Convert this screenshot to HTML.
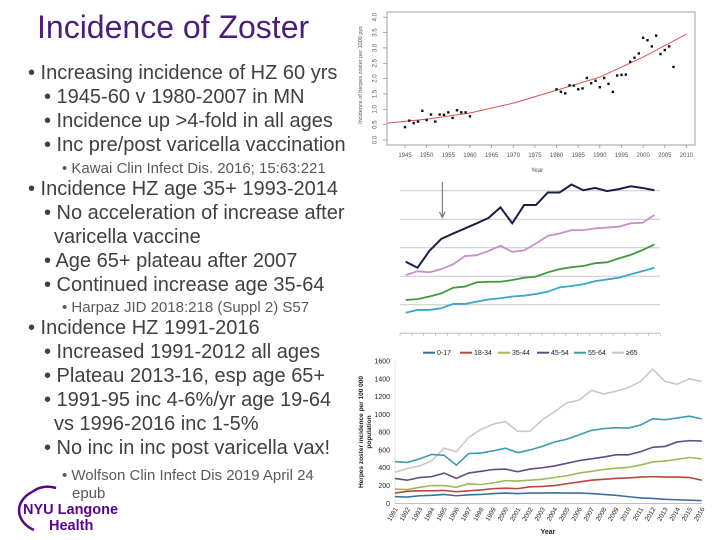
<!DOCTYPE html>
<html><head><meta charset="utf-8">
<style>
body{margin:0;width:720px;height:540px;background:#fff;position:relative;overflow:hidden;font-family:"Liberation Sans",sans-serif}
.t{position:absolute;white-space:nowrap;color:#404040;font-size:20px;line-height:20px}
.s{font-size:15px;color:#595959;line-height:16px}
svg{position:absolute;left:0;top:0}
</style></head><body>
<div class="t" style="left:37px;top:10px;font-size:32px;line-height:34px;color:#4b1e7a">Incidence of Zoster</div>
<div>
<div class="t" style="left:28px;top:63px">• Increasing incidence of HZ 60 yrs</div>
<div class="t" style="left:44px;top:87px">• 1945-60 v 1980-2007 in MN</div>
<div class="t" style="left:44px;top:111px">• Incidence up &gt;4-fold in all ages</div>
<div class="t" style="left:44px;top:135px">• Inc pre/post varicella vaccination</div>
<div class="t s" style="left:62px;top:161px">• Kawai Clin Infect Dis. 2016; 15:63:221</div>
<div class="t" style="left:28px;top:179px">• Incidence HZ age 35+ 1993-2014</div>
<div class="t" style="left:44px;top:203px">• No acceleration of increase after</div>
<div class="t" style="left:54px;top:227px">varicella vaccine</div>
<div class="t" style="left:44px;top:251px">• Age 65+ plateau after 2007</div>
<div class="t" style="left:44px;top:275px">• Continued increase age 35-64</div>
<div class="t s" style="left:62px;top:300px">• Harpaz JID 2018:218 (Suppl 2) S57</div>
<div class="t" style="left:28px;top:318px">• Incidence HZ 1991-2016</div>
<div class="t" style="left:44px;top:342px">• Increased 1991-2012 all ages</div>
<div class="t" style="left:44px;top:366px">• Plateau 2013-16, esp age 65+</div>
<div class="t" style="left:44px;top:390px">• 1991-95 inc 4-6%/yr age 19-64</div>
<div class="t" style="left:54px;top:414px">vs 1996-2016 inc 1-5%</div>
<div class="t" style="left:44px;top:438px">• No inc in inc post varicella vax!</div>
<div class="t s" style="left:62px;top:468px">• Wolfson Clin Infect Dis 2019 April 24</div>
<div class="t s" style="left:72px;top:486px">epub</div>
</div>
<svg width="720" height="540">
<path d="M32 492 A28 22 0 0 0 34 530" stroke="#57068c" stroke-width="2.5" fill="none"/>
<path d="M32 492 Q43 484 56 488" stroke="#57068c" stroke-width="2.5" fill="none"/>
<text x="23" y="514" font-size="14.5" font-weight="bold" fill="#57068c" font-family="Liberation Sans">NYU Langone</text>
<text x="49" y="530" font-size="14.5" font-weight="bold" fill="#57068c" font-family="Liberation Sans">Health</text>
</svg>
<svg id="c1" width="720" height="540"></svg>
<svg id="c2" width="720" height="540"></svg>
<svg id="c3" width="720" height="540"></svg>
<script>
const c1Years=[1945,1946,1947,1948,1949,1950,1951,1952,1953,1954,1955,1956,1957,1958,1959,1960,1980,1981,1982,1983,1984,1985,1986,1987,1988,1989,1990,1991,1992,1993,1994,1995,1996,1997,1998,1999,2000,2001,2002,2003,2004,2005,2006,2007];
const c1Values=[0.42,0.63,0.55,0.6,0.95,0.65,0.83,0.6,0.83,0.82,0.9,0.72,0.97,0.9,0.9,0.77,1.65,1.57,1.52,1.78,1.77,1.65,1.68,2.02,1.85,1.93,1.72,2.02,1.83,1.57,2.1,2.12,2.13,2.55,2.68,2.82,3.33,3.25,3.05,3.4,2.8,2.93,3.05,2.38];
const c1FitYears=[1941,1950,1960,1970,1980,1990,2000,2010];
const c1FitValues=[0.55,0.68,0.88,1.2,1.62,2.05,2.7,3.45];
const c1XTicks=[1945,1950,1955,1960,1965,1970,1975,1980,1985,1990,1995,2000,2005,2010];
const c1YTicks=[0,0.5,1,1.5,2,2.5,3,3.5,4];

const c2Navy=[2.51,2.30,2.89,3.31,3.50,3.68,3.86,4.05,4.42,3.86,4.50,4.50,4.94,4.94,5.22,5.02,5.1,4.99,5.06,5.16,5.1,5.02];
const c2Pink=[2.04,2.18,2.14,2.25,2.42,2.71,2.74,2.89,3.07,2.86,2.91,3.15,3.42,3.5,3.62,3.62,3.68,3.71,3.74,3.86,3.88,4.15];
const c2Green=[1.17,1.2,1.29,1.4,1.6,1.64,1.79,1.81,1.81,1.87,1.95,1.99,2.14,2.25,2.32,2.36,2.46,2.49,2.63,2.75,2.92,3.12];
const c2Cyan=[0.72,0.82,0.82,0.88,1.03,1.03,1.11,1.19,1.23,1.29,1.32,1.38,1.46,1.61,1.66,1.72,1.83,1.89,1.95,2.07,2.18,2.3];

const c3Years=[1991,1992,1993,1994,1995,1996,1997,1998,1999,2000,2001,2002,2003,2004,2005,2006,2007,2008,2009,2010,2011,2012,2013,2014,2015,2016];
const c3Age0_17=[75,70,85,90,100,85,95,100,110,115,110,115,115,118,115,115,110,100,90,75,60,55,45,40,35,30];
const c3Age18_34=[115,135,140,140,145,130,140,150,165,170,165,185,190,200,220,240,260,270,280,285,295,300,295,295,290,260];
const c3Age35_44=[160,155,180,200,200,180,220,210,230,255,250,260,270,290,310,340,360,380,395,405,430,465,475,495,515,500];
const c3Age45_54=[280,260,290,300,340,280,340,360,380,385,355,385,400,420,450,480,500,520,545,545,580,630,640,690,705,700];
const c3Age55_64=[470,460,500,550,540,430,560,565,590,620,570,600,640,690,720,770,820,840,850,845,880,950,940,960,980,950];
const c3Age65=[350,390,420,480,620,580,740,830,890,920,810,810,940,1030,1130,1160,1270,1230,1260,1300,1370,1510,1370,1340,1400,1370];
const c3YTicks=[0,200,400,600,800,1000,1200,1400,1600];
const c3Labels=["0-17","18-34","35-44","45-54","55-64","≥65"];

const NS="http://www.w3.org/2000/svg";
function mk(p,tag,a,txt){const e=document.createElementNS(NS,tag);for(const k in a)e.setAttribute(k,a[k]);if(txt!==undefined)e.textContent=txt;p.appendChild(e);return e;}

(function(){
const s=document.getElementById('c1');
const x=v=>405+(v-1945)*4.33, y=v=>140-v*30.7;
let r=mk(s,'rect',{x:387,y:12,width:308,height:133,fill:'none',stroke:'#888','stroke-width':0.8});


c1YTicks.forEach(t=>{mk(s,'line',{x1:383,x2:387,y1:y(t),y2:y(t),stroke:'#888','stroke-width':0.7});
const e=mk(s,'text',{x:375,y:y(t),'font-size':6,fill:'#555','text-anchor':'middle',transform:`rotate(-90 375 ${y(t)})`,'dominant-baseline':'middle'},t.toFixed(1));

});
c1XTicks.forEach(t=>{mk(s,'line',{x1:x(t),x2:x(t),y1:145,y2:148,stroke:'#888','stroke-width':0.7});
const e=mk(s,'text',{x:x(t),y:157,'font-size':6,fill:'#555','text-anchor':'middle'},t);

});
let e=mk(s,'text',{x:537,y:172,'font-size':6,fill:'#555','text-anchor':'middle'},'Year');


e=mk(s,'text',{x:362,y:75,'font-size':5.5,fill:'#555','text-anchor':'middle',transform:'rotate(-90 362 75)'},'Incidence of herpes zoster per 1000 pys');


let d=c1FitYears.map((v,i)=>(i?'L':'M')+x(v)+' '+y(c1FitValues[i])).join('');
e=mk(s,'path',{d:d,stroke:'#d9534f','stroke-width':1,fill:'none'});


c1Years.forEach((v,i)=>{const p=mk(s,'rect',{x:x(v)-1.2,y:y(c1Values[i])-1.2,width:2.4,height:2.4,fill:'#111'});

});
})();

(function(){
const s=document.getElementById('c2');
const x=i=>405.7+i*11.84, y=v=>333.3-v*28.5;
for(let g=1;g<=5;g++){const l=mk(s,'line',{x1:400,x2:660,y1:y(g),y2:y(g),stroke:'#c8c8c8','stroke-width':1});

}
mk(s,'line',{x1:400,x2:660,y1:333.3,y2:333.3,stroke:'#bbb','stroke-width':1});
for(let i=0;i<=22;i++)mk(s,'line',{x1:400+i*11.84,x2:400+i*11.84,y1:333.3,y2:336,stroke:'#bbb','stroke-width':0.8});
let a=mk(s,'line',{x1:442.3,x2:442.3,y1:182,y2:216,stroke:'#666','stroke-width':1});


mk(s,'path',{d:'M439.5 212 L442.3 217.5 L445 212',stroke:'#666',fill:'none','stroke-width':1});
[[c2Cyan,'#3aa6c8','age-35-44-line'],[c2Green,'#3f9a3f','age-45-54-line'],[c2Pink,'#c98fc9','age-55-64-line'],[c2Navy,'#1a1f45','age-65-line']].forEach(([arr,c,n])=>{
const p=mk(s,'path',{d:arr.map((v,i)=>(i?'L':'M')+x(i)+' '+y(v)).join(''),stroke:c,'stroke-width':n==='age-65-line'?2:1.8,fill:'none'});

});
})();

(function(){
const s=document.getElementById('c3');
const x=v=>395+(v-1991)*12.27, y=v=>503.3-v*0.0889;
const cols=['#3d6fa0','#b8473d','#9bbb59','#5f4b8b','#3b9bb0','#c8c8c8'];
const series=[c3Age0_17,c3Age18_34,c3Age35_44,c3Age45_54,c3Age55_64,c3Age65];
mk(s,'line',{x1:395,x2:395,y1:361,y2:503.3,stroke:'#ddd','stroke-width':0.7});
mk(s,'line',{x1:395,x2:702,y1:503.3,y2:503.3,stroke:'#999','stroke-width':0.7});
c3YTicks.forEach(t=>{const e=mk(s,'text',{x:390,y:y(t)+2.5,'font-size':7,fill:'#222','text-anchor':'end'},t);

});
c3Years.forEach(v=>{const e=mk(s,'text',{x:x(v)+3,y:509,'font-size':6.5,fill:'#222','text-anchor':'end',transform:`rotate(-60 ${x(v)+3} 509)`},v);

});
let e=mk(s,'text',{x:548,y:534,'font-size':7,'font-weight':'bold',fill:'#222','text-anchor':'middle'},'Year');


e=mk(s,'text',{x:363,y:432,'font-size':6.5,'font-weight':'bold',fill:'#222','text-anchor':'middle',transform:'rotate(-90 363 432)'},'Herpes zoster incidence per 100 000');


e=mk(s,'text',{x:371,y:432,'font-size':6.5,'font-weight':'bold',fill:'#222','text-anchor':'middle',transform:'rotate(-90 371 432)'},'population');


const lx=[423,460,498,537,574,612];
c3Labels.forEach((l,i)=>{mk(s,'line',{x1:lx[i],x2:lx[i]+12,y1:352.7,y2:352.7,stroke:cols[i],'stroke-width':2});
const t=mk(s,'text',{x:lx[i]+14,y:355,'font-size':7,fill:'#222'},l);

});
series.slice().reverse().forEach((arr,ri)=>{const i=5-ri;
const p=mk(s,'path',{d:arr.map((v,k)=>(k?'L':'M')+x(c3Years[k])+' '+y(v)).join(''),stroke:cols[i],'stroke-width':1.6,fill:'none'});

});
})();
</script>
</body></html>
